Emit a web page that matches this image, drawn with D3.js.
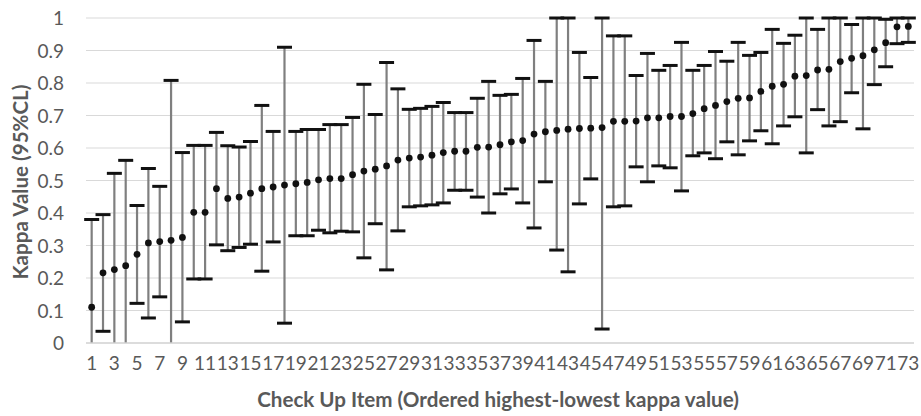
<!DOCTYPE html>
<html>
<head>
<meta charset="utf-8">
<script src="https://cdn.jsdelivr.net/npm/d3@7/dist/d3.min.js"></script>
<style>
  html, body { margin: 0; padding: 0; background: #fff; }
  svg { display: block; }
  text { font-family: Lato, "Open Sans", sans-serif; fill: #595959; }
</style>
</head>
<body>
<svg id="chart" width="921" height="416"></svg>
<script>
// ---- Data ----
const items = d3.range(1, 74);
const kappa = [0.110,0.216,0.226,0.238,0.273,0.308,0.312,0.316,0.325,0.402,
  0.402,0.475,0.445,0.449,0.461,0.475,0.480,0.486,0.490,0.494,
  0.502,0.506,0.506,0.518,0.529,0.535,0.545,0.563,0.569,0.572,
  0.578,0.586,0.590,0.590,0.602,0.603,0.610,0.619,0.623,0.643,
  0.650,0.654,0.658,0.660,0.661,0.663,0.682,0.682,0.683,0.693,
  0.693,0.697,0.697,0.706,0.721,0.731,0.743,0.753,0.754,0.774,
  0.790,0.796,0.821,0.823,0.840,0.842,0.866,0.876,0.884,0.902,
  0.924,0.973,0.974];
const upper = [0.380,0.395,0.522,0.562,0.423,0.537,0.482,0.808,0.586,0.608,
  0.608,0.648,0.607,0.603,0.620,0.731,0.651,0.910,0.651,0.657,
  0.657,0.672,0.672,0.694,0.796,0.703,0.863,0.782,0.719,0.722,
  0.728,0.740,0.709,0.709,0.753,0.805,0.762,0.765,0.814,0.931,
  0.805,1.000,1.000,0.894,0.817,1.000,0.945,0.945,0.823,0.891,
  0.839,0.854,0.925,0.839,0.854,0.897,0.867,0.925,0.885,0.894,
  0.965,0.922,0.947,1.000,0.965,1.000,1.000,0.980,1.000,1.000,
  0.996,1.000,1.000];
const lower = [-0.160,0.036,-0.070,-0.086,0.122,0.077,0.142,-0.176,0.065,0.197,
  0.197,0.302,0.284,0.294,0.304,0.221,0.311,0.061,0.330,0.330,
  0.347,0.339,0.344,0.342,0.262,0.367,0.225,0.345,0.419,0.422,
  0.425,0.431,0.470,0.470,0.449,0.400,0.459,0.474,0.431,0.354,
  0.496,0.286,0.219,0.428,0.505,0.043,0.419,0.422,0.542,0.496,
  0.545,0.539,0.468,0.576,0.585,0.567,0.619,0.579,0.622,0.653,
  0.613,0.668,0.696,0.585,0.718,0.668,0.681,0.770,0.659,0.795,
  0.850,0.921,0.925];
const yTicks = [0,0.1,0.2,0.3,0.4,0.5,0.6,0.7,0.8,0.9,1];
const xTickLabels = items.filter(d => d % 2 === 1);
const xTitle = "Check Up Item (Ordered highest-lowest kappa value)";
const yTitle = "Kappa Value (95%CL)";

const data = items.map((it, i) => ({ item: it, k: kappa[i], lo: lower[i], hi: upper[i] }));

// ---- Layout ----
const svg = d3.select("#chart");
const mLeft = 86, mRight = 914, mTop = 18, mBottom = 343;

const x = d3.scaleBand().domain(items).range([mLeft, mRight]).padding(0);
const y = d3.scaleLinear().domain([0, 1]).range([mBottom, mTop]);
const cx = d => x(d) + x.bandwidth() / 2;

// gridlines
svg.append("g").selectAll("line").data(yTicks.filter(t => t > 0)).join("line")
  .attr("x1", mLeft).attr("x2", mRight)
  .attr("y1", d => y(d)).attr("y2", d => y(d))
  .attr("stroke", "#d9d9d9").attr("stroke-width", 1);

// clip for values below 0
svg.append("clipPath").attr("id", "clip").append("rect")
  .attr("x", 0).attr("y", 0).attr("width", 921).attr("height", mBottom);

const g = svg.append("g").attr("clip-path", "url(#clip)");

// stems
g.selectAll("line.stem").data(data).join("line").attr("class", "stem")
  .attr("x1", d => cx(d.item)).attr("x2", d => cx(d.item))
  .attr("y1", d => y(d.lo)).attr("y2", d => y(d.hi))
  .attr("stroke", "#7f7f7f").attr("stroke-width", 2.2);

// caps
const capW = 15;
g.selectAll("line.capHi").data(data).join("line").attr("class", "capHi")
  .attr("x1", d => cx(d.item) - capW / 2).attr("x2", d => cx(d.item) + capW / 2)
  .attr("y1", d => y(d.hi)).attr("y2", d => y(d.hi))
  .attr("stroke", "#111").attr("stroke-width", 3);
g.selectAll("line.capLo").data(data.filter(d => d.lo >= 0)).join("line").attr("class", "capLo")
  .attr("x1", d => cx(d.item) - capW / 2).attr("x2", d => cx(d.item) + capW / 2)
  .attr("y1", d => y(d.lo)).attr("y2", d => y(d.lo))
  .attr("stroke", "#111").attr("stroke-width", 3);

// x axis line
svg.append("line").attr("x1", mLeft).attr("x2", mRight)
  .attr("y1", mBottom).attr("y2", mBottom)
  .attr("stroke", "#d0d0d0").attr("stroke-width", 1.5);

// points
svg.append("g").selectAll("circle").data(data).join("circle")
  .attr("cx", d => cx(d.item)).attr("cy", d => y(d.k))
  .attr("r", 3.4).attr("fill", "#111");

// x axis labels
const xAxis = d3.axisBottom(x).tickValues(xTickLabels).tickSize(0).tickPadding(0);
const xg = svg.append("g").attr("transform", `translate(0,${mBottom})`).call(xAxis);
xg.select(".domain").remove();
xg.selectAll("text").attr("y", 27).attr("dy", 0)
  .style("font-size", "19px").style("fill", "#595959")
  .style("font-family", "Lato, 'Open Sans', sans-serif");

// y axis labels
const yAxis = d3.axisLeft(y).tickValues(yTicks).tickSize(0).tickPadding(0)
  .tickFormat(d => d3.format("")(+d.toFixed(1)));
const yg = svg.append("g").attr("transform", `translate(64,0)`).call(yAxis);
yg.select(".domain").remove();
yg.selectAll("text").attr("x", 0).attr("dy", "0.36em")
  .style("font-size", "19px").style("fill", "#595959")
  .style("font-family", "Lato, 'Open Sans', sans-serif");

// titles
svg.append("text").attr("x", 498).attr("y", 407).attr("text-anchor", "middle")
  .style("font-size", "20.6px").style("font-weight", "bold").text(xTitle);
svg.append("text").attr("transform", `translate(28,182) rotate(-90)`)
  .attr("text-anchor", "middle")
  .style("font-size", "20.6px").style("font-weight", "bold").text(yTitle);
</script>
</body>
</html>
